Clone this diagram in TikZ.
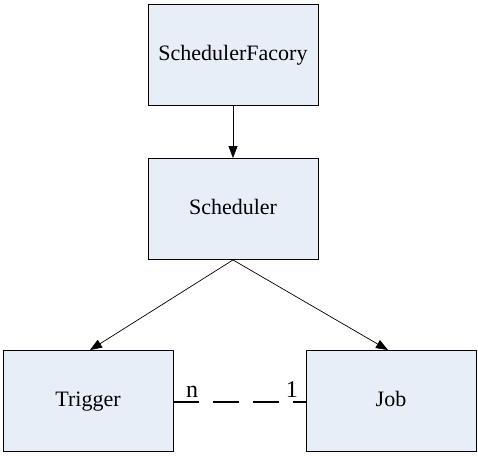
\documentclass[tikz,border=0pt]{standalone}
\usepackage{fontspec}
\setmainfont{Liberation Serif}
\usetikzlibrary{arrows.meta}
\definecolor{boxfill}{RGB}{232,238,248}
\tikzset{
  umlbox/.style={draw=black, line width=0.9pt, fill=boxfill, minimum width=170pt, minimum height=101pt, inner sep=0pt, text height=16pt, text depth=5pt, font=\fontsize{22}{25}\selectfont},
  conn/.style={draw=black, line width=0.7pt, -{Triangle[length=12pt,width=9pt]}},
  assoc/.style={draw=black, line width=2pt, dash pattern=on 25.5pt off 14.5pt},
  mult/.style={inner sep=0pt, font=\fontsize{24}{27}\selectfont}
}
\begin{document}
\begin{tikzpicture}[x=1pt,y=-1pt]
\useasboundingbox (0,0) rectangle (478,455);
\node[umlbox] (sf) at (233,54.5) {SchedulerFacory};
\node[umlbox] (sch) at (233,209) {Scheduler};
\node[umlbox] (trig) at (88,401) {Trigger};
\node[umlbox] (job) at (391,401) {Job};
\draw[conn] (sf.south) -- (sch.north);
\draw[conn] (sch.south) -- ([xshift=2pt]trig.north);
\draw[conn] (sch.south) -- ([xshift=-3pt]job.north);
\draw[assoc] ([yshift=-1pt]trig.east) -- ([yshift=-1pt]job.west);
\node[mult, anchor=base west] (n) at (186,397) {n};
\node[mult, anchor=base east] (one) at (298,397) {1};
\end{tikzpicture}
\end{document}
